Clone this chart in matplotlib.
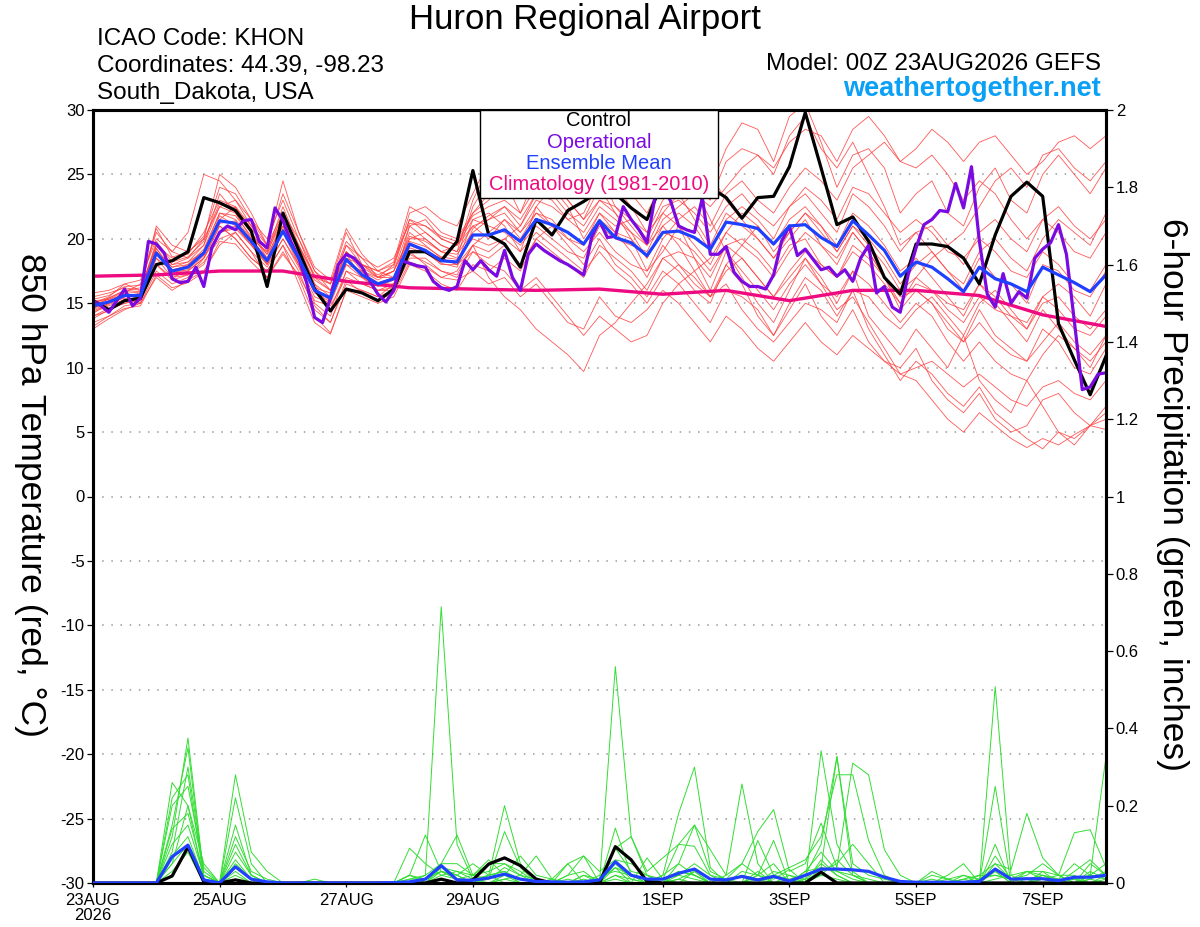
import numpy as np
import matplotlib
matplotlib.use("Agg")
import matplotlib.pyplot as plt
from matplotlib.patches import Rectangle

plt.rcParams['font.family'] = ['Liberation Sans', 'DejaVu Sans']

# ---------------- DATA ----------------
tick_hours = [0, 48, 96, 144, 216, 264, 312, 360]
tick_labels = ['23AUG\n2026', '25AUG', '27AUG', '29AUG', '1SEP', '3SEP', '5SEP', '7SEP']

# Control (6-hourly, 850 hPa temperature, C)
control_t = [15.2, 14.5, 15.2, 15.4, 18.0, 18.3, 19.0, 23.2, 22.8, 22.2, 20.6, 16.3, 22.0,
             19.1, 16.1, 14.4, 16.1, 15.8, 15.2, 16.1, 19.0, 19.0, 18.3, 19.8, 25.3, 20.3,
             19.6, 17.8, 21.5, 20.3, 22.2, 22.9, 23.7, 23.5, 22.4, 21.5, 24.5, 25.0, 24.8,
             24.0, 23.2, 21.6, 23.2, 23.3, 25.6, 29.8, 25.5, 21.1, 21.7, 19.8, 17.0, 15.7,
             19.6, 19.6, 19.4, 18.5, 16.5, 20.3, 23.3, 24.4, 23.3, 13.4, 10.6, 7.9, 10.9]

# Ensemble mean (6-hourly)
mean_t = [14.8, 15.1, 15.6, 15.6, 18.9, 17.5, 17.8, 18.9, 21.4, 21.2, 19.8, 18.3, 20.6,
          18.5, 16.0, 15.4, 18.4, 17.2, 16.5, 16.9, 19.6, 19.1, 18.3, 18.2, 20.3, 20.3,
          20.7, 19.8, 21.5, 21.1, 20.5, 19.6, 21.4, 20.1, 19.7, 18.7, 20.5, 20.6, 20.1,
          19.2, 21.3, 21.1, 20.8, 19.6, 21.0, 21.1, 20.1, 19.4, 21.4, 20.3, 19.1, 17.1,
          18.2, 17.8, 16.9, 15.9, 17.8, 16.9, 16.5, 15.9, 17.8, 17.2, 16.6, 15.9, 17.2]

# Operational (3-hourly)
oper_t = [15.2, 14.8, 14.3, 15.2, 16.1, 14.8, 15.4, 19.8, 19.6, 18.9,
          16.9, 16.6, 16.7, 17.8, 16.3, 19.3, 20.5, 21.0, 20.7, 21.4,
          21.5, 19.8, 19.3, 22.4, 21.4, 19.8, 18.5, 16.6, 13.9, 13.5,
          15.4, 18.0, 18.8, 18.5, 17.8, 16.7, 15.7, 15.1, 16.0, 18.3,
          18.1, 17.9, 17.8, 16.7, 16.2, 16.0, 16.3, 18.3, 17.6, 18.3,
          17.6, 17.1, 19.1, 17.0, 16.0, 18.8, 19.6, 19.1, 18.7, 18.3,
          18.0, 17.6, 17.2, 20.1, 21.4, 20.1, 20.2, 22.5, 21.5, 20.7,
          19.7, 23.2, 24.2, 22.9, 21.0, 20.7, 20.5, 23.2, 18.8, 18.8,
          19.4, 17.4, 16.7, 16.3, 16.3, 16.1, 17.2, 19.8, 21.0, 18.7,
          19.2, 18.4, 17.6, 17.8, 17.1, 17.6, 16.7, 18.5, 19.5, 15.8,
          16.3, 14.7, 14.3, 17.2, 19.3, 21.1, 21.5, 22.2, 22.1, 24.3,
          22.4, 25.6, 19.8, 15.7, 14.7, 17.3, 15.0, 15.9, 15.4, 18.5,
          19.2, 19.7, 21.1, 18.8, 13.6, 8.3, 8.5, 9.5, 9.6]

# Climatology 1981-2010 (daily)
clim_t = [17.1, 17.2, 17.5, 17.5, 16.7, 16.2, 16.1, 16.0, 16.1, 15.7, 16.0, 15.2, 16.0,
          16.0, 15.6, 14.1, 13.2]

# Ensemble members (6-hourly temperatures)
m01 = [14.5, 15.0, 15.8, 16.5, 20.5, 19.0, 18.5, 19.5, 23.5, 22.0, 20.0, 19.0, 21.5,
       19.5, 16.5, 14.5, 17.5, 17.0, 16.0, 16.5, 21.0, 21.5, 20.0, 19.5, 22.0, 23.0,
       24.5, 22.0, 25.0, 26.0, 23.0, 21.5, 24.0, 22.0, 20.0, 17.5, 19.0, 21.0, 18.5,
       16.0, 19.0, 17.0, 15.0, 13.5, 16.0, 18.5, 17.0, 15.0, 17.5, 14.0, 12.5, 11.0,
       13.0, 11.5, 10.0, 12.5, 9.0, 7.5, 6.5, 9.0, 7.0, 5.0, 4.0, 5.5, 7.0]
m02 = [15.5, 15.8, 16.2, 16.0, 19.5, 18.0, 18.5, 20.0, 22.5, 23.0, 21.0, 19.5, 22.0,
       20.0, 17.0, 16.0, 19.5, 18.5, 17.0, 18.0, 21.5, 20.5, 19.5, 19.0, 23.0, 25.5,
       27.0, 26.0, 29.5, 30.5, 28.0, 26.5, 28.5, 27.0, 25.0, 23.5, 26.0, 28.0, 26.5,
       24.0, 27.0, 29.0, 28.5, 26.0, 29.5, 30.5, 27.5, 24.0, 26.5, 27.0, 25.5, 22.0,
       23.5, 24.5, 22.0, 21.0, 24.0, 25.5, 23.0, 22.0, 25.0, 26.5, 25.0, 23.5, 25.5]
m03 = [14.0, 14.6, 15.0, 15.2, 18.0, 17.0, 17.2, 18.0, 20.5, 20.8, 19.5, 18.0, 20.0,
       18.0, 15.0, 14.0, 17.5, 16.5, 16.0, 16.0, 18.5, 18.5, 17.5, 17.0, 19.0, 18.5,
       19.5, 18.0, 20.0, 19.0, 18.0, 17.0, 19.5, 18.5, 17.5, 16.0, 18.5, 19.0, 18.5,
       17.0, 19.5, 20.0, 19.0, 17.5, 19.5, 20.0, 18.0, 17.0, 19.5, 18.5, 17.0, 15.0,
       16.5, 16.0, 14.5, 13.5, 15.5, 14.5, 14.0, 13.0, 15.0, 15.5, 14.0, 13.0, 14.5]
m04 = [13.5, 14.0, 14.8, 15.0, 17.5, 16.5, 17.0, 18.5, 21.0, 20.0, 18.5, 17.5, 19.5,
       17.5, 14.5, 13.5, 16.5, 16.0, 15.5, 16.0, 19.0, 18.0, 17.0, 17.5, 19.5, 17.0,
       15.5, 14.5, 13.0, 12.0, 11.0, 9.7, 12.5, 13.5, 15.0, 16.5, 18.5, 17.5, 16.0,
       15.0, 18.0, 19.5, 21.0, 19.0, 20.5, 22.0, 21.0, 19.5, 22.0, 21.0, 19.5, 17.5,
       18.5, 17.0, 15.5, 14.0, 16.5, 15.0, 13.5, 12.0, 14.5, 13.0, 11.5, 10.5, 12.0]
m05 = [15.0, 15.5, 16.5, 16.0, 21.0, 19.5, 19.0, 20.0, 25.0, 24.0, 22.0, 19.5, 24.5,
       20.5, 17.5, 16.5, 20.5, 18.0, 17.0, 17.5, 20.0, 20.0, 19.0, 19.5, 21.0, 20.0,
       21.5, 20.0, 22.0, 21.5, 20.0, 19.0, 20.5, 19.0, 18.0, 17.5, 20.0, 21.5, 22.5,
       21.0, 23.5, 24.5, 23.0, 22.0, 24.0, 25.5, 24.5, 23.0, 25.5, 26.5, 27.5, 26.0,
       27.0, 28.5, 27.5, 26.0, 27.5, 28.0, 26.5, 25.0, 26.0, 27.5, 28.0, 27.0, 28.0]
m06 = [14.2, 15.0, 15.4, 15.0, 19.0, 17.5, 18.0, 19.0, 21.5, 22.5, 20.5, 18.5, 21.0,
       18.0, 15.5, 15.0, 18.0, 17.5, 17.0, 17.0, 20.5, 19.5, 18.5, 18.0, 21.5, 22.0,
       21.0, 19.0, 22.5, 24.0, 22.5, 20.0, 22.0, 20.5, 19.0, 17.0, 19.5, 18.0, 16.5,
       15.5, 18.0, 16.5, 14.0, 12.5, 15.0, 17.0, 16.0, 14.0, 16.0, 13.0, 11.0, 9.0,
       10.5, 9.5, 8.0, 7.0, 8.5, 6.5, 5.5, 4.5, 3.7, 5.0, 4.5, 5.5, 6.0]
m07 = [15.2, 15.3, 15.9, 15.8, 19.5, 18.0, 18.2, 19.0, 22.0, 21.5, 20.0, 18.5, 21.5,
       19.0, 16.5, 15.5, 19.0, 17.5, 16.8, 17.5, 21.0, 20.0, 19.0, 18.5, 22.5, 24.5,
       26.0, 24.0, 27.5, 29.0, 27.0, 25.0, 26.5, 24.0, 22.5, 20.5, 22.0, 23.5, 21.5,
       19.5, 22.0, 21.0, 20.0, 18.5, 20.0, 21.5, 19.5, 18.0, 20.5, 19.0, 17.0, 14.5,
       16.0, 15.0, 13.0, 12.0, 14.5, 12.5, 11.5, 10.5, 13.0, 12.0, 10.0, 9.5, 11.5]
m08 = [13.0, 13.8, 14.5, 15.0, 17.0, 16.0, 16.8, 17.5, 19.5, 20.5, 19.0, 17.0, 19.0,
       17.0, 14.0, 12.7, 16.0, 15.5, 15.0, 15.5, 18.0, 17.5, 16.5, 16.0, 18.0, 17.5,
       18.5, 17.5, 20.0, 21.0, 20.5, 19.5, 22.0, 21.0, 21.5, 20.5, 23.0, 24.5, 24.0,
       23.0, 26.0, 27.0, 26.5, 25.0, 28.0, 29.5, 27.0, 25.5, 27.5, 25.0, 22.5, 19.5,
       20.5, 19.0, 17.5, 16.0, 18.5, 17.0, 16.5, 15.0, 18.0, 17.5, 16.0, 15.5, 17.5]
m09 = [14.6, 15.2, 15.5, 15.8, 19.2, 17.8, 18.0, 19.2, 22.0, 21.8, 20.2, 18.8, 21.0,
       18.8, 16.2, 15.8, 19.0, 17.8, 17.0, 17.5, 20.2, 19.8, 19.0, 18.8, 20.5, 21.5,
       22.0, 20.5, 22.0, 21.0, 19.5, 18.0, 20.0, 18.0, 17.0, 15.5, 17.5, 16.5, 15.0,
       13.5, 16.0, 15.5, 14.5, 12.5, 14.5, 16.5, 14.0, 12.5, 14.5, 12.0, 10.5, 10.0,
       11.5, 9.0, 7.5, 6.5, 8.0, 6.0, 5.0, 5.5, 7.5, 8.0, 6.5, 5.5, 5.2]
m10 = [15.8, 16.0, 16.5, 16.8, 20.0, 19.0, 20.5, 25.0, 24.5, 23.0, 21.5, 20.0, 23.0,
       20.0, 17.5, 16.0, 18.5, 18.0, 17.5, 17.0, 20.0, 20.5, 19.5, 19.0, 21.0, 21.5,
       22.5, 21.0, 23.5, 24.5, 23.0, 21.5, 23.0, 22.0, 20.5, 18.5, 21.0, 22.0, 21.0,
       19.0, 21.5, 22.5, 21.5, 20.0, 22.5, 23.5, 22.0, 20.5, 23.5, 22.5, 21.0, 19.0,
       20.5, 21.0, 19.5, 18.0, 20.5, 21.5, 20.0, 19.0, 21.5, 22.5, 21.0, 20.0, 21.5]
m11 = [14.0, 14.4, 15.2, 15.4, 18.5, 17.0, 17.5, 18.5, 21.0, 20.0, 18.5, 17.5, 19.5,
       16.5, 13.5, 12.6, 16.0, 16.0, 15.5, 16.5, 19.0, 19.0, 18.0, 18.0, 19.5, 19.0,
       20.0, 21.0, 23.0, 22.5, 21.5, 22.0, 24.5, 25.5, 23.5, 22.0, 24.5, 26.0, 24.0,
       21.5, 19.0, 17.5, 16.0, 14.5, 16.5, 18.0, 16.5, 15.5, 17.5, 16.5, 15.0, 13.5,
       15.0, 14.0, 12.0, 10.5, 12.0, 10.5, 9.5, 9.0, 11.0, 12.5, 11.5, 10.0, 12.5]
m12 = [15.0, 15.4, 16.0, 16.2, 19.5, 18.5, 18.8, 20.5, 23.0, 22.5, 21.0, 19.0, 22.5,
       19.5, 17.0, 16.5, 19.5, 18.0, 17.2, 17.8, 21.5, 21.0, 20.0, 19.5, 21.5, 21.0,
       20.5, 19.5, 21.0, 20.0, 19.0, 18.5, 21.0, 20.0, 19.5, 19.0, 21.5, 22.5, 23.5,
       22.5, 24.0, 25.5, 26.5, 25.5, 27.5, 28.5, 28.0, 26.0, 28.5, 29.5, 28.0, 26.0,
       25.5, 26.5, 25.0, 23.0, 24.5, 23.5, 21.5, 20.0, 21.5, 20.5, 19.0, 18.5, 20.5]
m13 = [14.3, 14.8, 15.3, 15.5, 18.5, 17.5, 17.5, 18.5, 20.5, 21.0, 19.5, 18.0, 20.5,
       18.0, 16.0, 15.5, 18.0, 17.0, 16.5, 16.5, 19.5, 19.0, 18.5, 18.0, 19.0, 18.0,
       17.5, 16.0, 17.0, 15.5, 14.0, 12.5, 14.0, 13.0, 12.0, 12.5, 15.0, 16.5, 17.5,
       18.5, 20.5, 22.0, 21.0, 19.5, 21.5, 22.5, 21.0, 19.0, 21.0, 20.0, 18.5, 16.5,
       18.0, 19.0, 17.5, 16.5, 19.0, 20.0, 18.5, 17.5, 20.0, 21.5, 20.5, 19.5, 22.0]
m14 = [14.9, 15.3, 15.7, 15.6, 19.0, 17.8, 18.2, 19.5, 22.5, 22.0, 20.5, 18.8, 22.0,
       19.0, 16.8, 16.0, 19.0, 18.0, 17.5, 18.0, 22.0, 22.5, 21.5, 21.0, 23.5, 26.0,
       28.0, 27.0, 30.0, 28.5, 26.0, 24.0, 25.0, 22.5, 21.0, 19.5, 21.0, 19.5, 17.5,
       15.5, 16.5, 14.5, 13.0, 12.0, 13.5, 15.0, 14.5, 13.5, 16.0, 15.5, 14.0, 13.0,
       14.5, 15.5, 14.0, 12.5, 15.0, 16.0, 14.5, 13.0, 15.5, 16.5, 15.5, 14.0, 16.5]
m15 = [14.7, 15.4, 16.0, 15.9, 19.8, 18.2, 18.6, 19.8, 22.8, 22.4, 20.8, 19.2, 21.8,
       19.5, 17.2, 16.5, 19.8, 18.5, 17.8, 18.5, 21.2, 21.0, 20.2, 19.8, 21.8, 22.5,
       23.0, 22.0, 24.0, 23.5, 22.0, 21.0, 23.0, 22.5, 21.5, 20.0, 22.5, 23.0, 22.0,
       20.5, 22.5, 23.5, 22.0, 21.0, 22.5, 24.0, 23.0, 21.5, 24.0, 23.5, 22.0, 20.5,
       21.5, 20.5, 19.0, 18.5, 20.0, 19.0, 17.5, 17.0, 19.0, 18.0, 16.5, 16.0, 18.0]
m16 = [13.8, 14.5, 15.0, 15.3, 18.0, 16.8, 17.2, 18.2, 20.0, 20.5, 19.0, 17.8, 20.0,
       17.8, 15.2, 14.8, 17.0, 16.5, 16.0, 16.2, 18.8, 18.2, 17.5, 17.2, 19.5, 20.5,
       21.5, 20.5, 22.5, 21.0, 20.0, 19.5, 21.5, 20.5, 20.0, 18.5, 20.5, 20.0, 19.0,
       17.5, 19.5, 18.5, 17.0, 15.5, 17.0, 18.5, 16.5, 14.5, 15.5, 13.5, 11.5, 9.5,
       9.0, 7.5, 6.0, 5.0, 6.5, 5.5, 4.5, 3.8, 4.5, 4.0, 4.8, 5.5, 6.5]
m17 = [15.3, 15.6, 16.3, 16.4, 20.8, 18.6, 18.9, 20.2, 24.0, 23.5, 21.5, 19.5, 23.5,
       20.5, 17.8, 16.8, 20.8, 18.8, 17.5, 18.2, 22.5, 21.8, 20.5, 20.0, 22.0, 23.5,
       24.5, 23.5, 26.0, 27.5, 26.5, 25.5, 27.5, 28.5, 27.0, 25.0, 27.5, 29.0, 27.5,
       25.0, 23.0, 21.5, 20.0, 18.5, 20.5, 22.0, 20.5, 19.0, 21.0, 19.5, 18.0, 16.0,
       17.0, 16.0, 15.0, 14.5, 16.5, 15.5, 14.0, 13.5, 15.5, 14.5, 13.0, 12.5, 14.0]
m18 = [13.2, 14.0, 14.6, 14.8, 17.2, 16.2, 16.6, 17.4, 19.8, 19.6, 18.2, 17.0, 18.8,
       17.2, 14.8, 13.5, 16.8, 15.8, 15.2, 15.8, 18.2, 17.8, 17.0, 16.8, 17.5, 16.5,
       17.0, 15.5, 16.5, 15.0, 13.5, 13.0, 15.5, 14.0, 13.5, 14.5, 16.0, 15.0, 13.5,
       12.0, 14.0, 13.0, 11.5, 10.5, 12.0, 13.5, 12.0, 11.0, 12.5, 11.5, 10.5, 9.5,
       10.0, 10.5, 9.5, 8.5, 9.5, 8.5, 7.5, 7.0, 8.5, 9.0, 8.0, 7.5, 9.0]
m19 = [14.4, 14.9, 15.5, 15.7, 18.8, 17.6, 17.9, 18.8, 21.2, 21.4, 19.8, 18.4, 20.6,
       18.6, 16.0, 15.2, 18.4, 17.4, 16.6, 17.0, 19.8, 19.4, 18.6, 18.4, 20.0, 19.5,
       20.0, 19.0, 20.5, 19.5, 18.5, 17.5, 19.0, 17.5, 16.5, 15.0, 17.0, 18.0, 17.0,
       15.5, 17.5, 18.5, 17.0, 15.5, 17.5, 19.0, 18.0, 17.0, 19.0, 18.0, 16.5, 15.0,
       17.0, 18.5, 19.5, 20.5, 22.5, 24.5, 25.5, 24.0, 26.5, 27.0, 25.5, 24.5, 26.0]
m20 = [14.6, 15.1, 15.8, 15.5, 19.3, 17.4, 17.6, 18.7, 21.8, 21.0, 19.6, 18.1, 20.8,
       18.3, 15.8, 15.1, 18.8, 17.0, 16.3, 16.8, 19.3, 18.9, 18.1, 17.8, 20.8, 21.8,
       22.5, 21.5, 23.5, 23.0, 21.5, 20.5, 22.5, 21.5, 20.5, 19.5, 22.0, 21.0, 19.5,
       18.0, 20.5, 19.5, 18.5, 17.0, 19.0, 20.5, 19.5, 18.5, 20.5, 19.0, 17.0, 15.5,
       16.0, 15.0, 13.5, 12.0, 13.5, 12.0, 11.0, 10.5, 12.0, 13.5, 12.0, 11.0, 12.5]
red_members = [m01, m02, m03, m04, m05, m06, m07, m08, m09, m10,
               m11, m12, m13, m14, m15, m16, m17, m18, m19, m20]

# 6-hour precipitation (inches), 6-hourly
control_p = [0, 0, 0, 0, 0, 0.018, 0.093, 0.003, 0, 0.008, 0, 0, 0,
             0, 0, 0, 0, 0, 0, 0, 0, 0, 0.01, 0, 0.008, 0.049,
             0.065, 0.045, 0.01, 0, 0, 0, 0, 0.094, 0.06, 0.004, 0, 0, 0,
             0, 0, 0, 0, 0, 0, 0, 0.028, 0, 0, 0, 0, 0,
             0, 0, 0, 0, 0, 0, 0, 0, 0, 0, 0, 0, 0]
mean_p = [0, 0, 0, 0, 0, 0.068, 0.098, 0.008, 0, 0.042, 0.01, 0.003, 0,
          0, 0, 0, 0, 0, 0, 0.001, 0.003, 0.01, 0.045, 0.008, 0.007, 0.013,
          0.023, 0.01, 0.004, 0.003, 0.002, 0.003, 0.008, 0.055, 0.02, 0.01, 0.01, 0.025, 0.036,
          0.01, 0.008, 0.017, 0.008, 0.017, 0.005, 0.02, 0.036, 0.036, 0.034, 0.03, 0.015, 0.004,
          0.002, 0.002, 0.002, 0.002, 0.004, 0.036, 0.01, 0.011, 0.011, 0.006, 0.015, 0.015, 0.02]

g01 = [0, 0, 0, 0, 0, 0.12, 0.375, 0.02, 0, 0.05, 0.01, 0, 0,
       0, 0, 0, 0, 0, 0, 0, 0.01, 0.02, 0.715, 0.1, 0.01, 0,
       0.02, 0, 0, 0, 0.01, 0, 0, 0.02, 0.01, 0, 0, 0.03, 0.02,
       0, 0, 0, 0.02, 0, 0, 0.01, 0.05, 0.02, 0, 0, 0, 0,
       0, 0, 0, 0, 0, 0.03, 0, 0, 0.01, 0, 0, 0.02, 0.05]
g02 = [0, 0, 0, 0, 0, 0.26, 0.2, 0.05, 0, 0.28, 0.08, 0.03, 0,
       0, 0, 0, 0, 0, 0, 0, 0.09, 0.05, 0.02, 0.03, 0.01, 0.02,
       0.2, 0.05, 0.01, 0, 0.02, 0.07, 0, 0.56, 0.12, 0.02, 0, 0.01, 0.03,
       0, 0, 0, 0, 0, 0, 0.03, 0.08, 0.03, 0.01, 0, 0, 0,
       0, 0, 0, 0, 0, 0.05, 0.01, 0, 0, 0, 0, 0, 0.01]
g03 = [0, 0, 0, 0, 0, 0.15, 0.35, 0.01, 0, 0.22, 0.05, 0, 0,
       0, 0, 0, 0, 0, 0, 0, 0.02, 0.124, 0.03, 0.01, 0, 0.01,
       0.133, 0.04, 0, 0, 0.05, 0, 0, 0.142, 0.02, 0, 0.02, 0.18, 0.3,
       0.04, 0, 0, 0.03, 0, 0.02, 0, 0.342, 0.1, 0.03, 0, 0, 0,
       0, 0, 0, 0.02, 0, 0.508, 0.02, 0, 0.03, 0, 0, 0.03, 0.01]
g04 = [0, 0, 0, 0, 0, 0.08, 0.3, 0.03, 0, 0.12, 0.03, 0.01, 0,
       0, 0.01, 0, 0, 0, 0, 0, 0, 0, 0.05, 0.124, 0.02, 0.05,
       0.05, 0.02, 0.07, 0.01, 0, 0, 0.01, 0.09, 0.12, 0.03, 0.065, 0.1, 0.15,
       0.086, 0.02, 0.256, 0.05, 0, 0.01, 0.02, 0.1, 0.327, 0.05, 0.02, 0.01, 0,
       0, 0, 0.02, 0.05, 0, 0.25, 0, 0, 0.02, 0, 0.01, 0, 0]
g05 = [0, 0, 0, 0, 0, 0.05, 0.2, 0.01, 0, 0.08, 0.02, 0, 0,
       0, 0, 0, 0, 0, 0, 0, 0, 0.02, 0.05, 0.05, 0.02, 0.06,
       0.02, 0.07, 0.02, 0.01, 0.05, 0.07, 0.03, 0.06, 0.05, 0.02, 0.01, 0.1, 0.095,
       0.02, 0.01, 0.05, 0.133, 0.19, 0.03, 0.05, 0.155, 0.04, 0.31, 0.28, 0.086, 0.02,
       0, 0.01, 0, 0.01, 0.02, 0.05, 0.035, 0.18, 0.065, 0.02, 0.13, 0.138, 0.04]
g06 = [0, 0, 0, 0, 0, 0.1, 0.15, 0.02, 0, 0.04, 0.01, 0, 0,
       0, 0, 0, 0, 0, 0, 0, 0.02, 0.01, 0.03, 0.02, 0, 0.02,
       0, 0, 0, 0.01, 0, 0.02, 0.01, 0.04, 0.02, 0, 0.02, 0.05, 0.15,
       0.03, 0.01, 0, 0.11, 0.02, 0.04, 0.06, 0.12, 0.28, 0.28, 0.11, 0.02, 0,
       0, 0, 0.01, 0, 0, 0.07, 0.01, 0.02, 0.05, 0.02, 0, 0.05, 0.02]
g07 = [0, 0, 0, 0, 0, 0.2, 0.25, 0.04, 0, 0.1, 0.02, 0, 0,
       0, 0, 0, 0, 0, 0, 0, 0, 0, 0.04, 0.03, 0.02, 0.03,
       0.05, 0.03, 0, 0, 0, 0, 0, 0.09, 0.03, 0.02, 0, 0.02, 0.05,
       0.02, 0, 0.03, 0.02, 0.11, 0, 0.02, 0.03, 0.05, 0.1, 0.05, 0, 0,
       0, 0.03, 0.01, 0, 0.02, 0.02, 0.01, 0.03, 0.01, 0, 0.03, 0.06, 0.02]
g08 = [0, 0, 0, 0, 0, 0.14, 0.18, 0.02, 0, 0.06, 0.01, 0, 0,
       0, 0, 0, 0, 0, 0, 0, 0.02, 0, 0.03, 0.02, 0, 0.02,
       0.03, 0, 0, 0, 0.02, 0.03, 0, 0.04, 0, 0.065, 0.01, 0, 0.03,
       0, 0.02, 0.05, 0.02, 0.01, 0.035, 0, 0.04, 0.327, 0.02, 0.01, 0, 0,
       0, 0, 0, 0.01, 0, 0.1, 0, 0.03, 0.02, 0.01, 0.05, 0.02, 0.327]
g09 = [0, 0, 0, 0, 0, 0.07, 0.12, 0.01, 0, 0.03, 0, 0, 0,
       0, 0, 0, 0, 0, 0, 0, 0, 0, 0.02, 0.01, 0, 0,
       0.01, 0.02, 0, 0, 0, 0.02, 0, 0.02, 0, 0, 0, 0.05, 0.02,
       0, 0, 0, 0.02, 0.05, 0, 0.03, 0.04, 0.03, 0.02, 0, 0, 0,
       0, 0, 0, 0, 0, 0.01, 0.02, 0.03, 0.03, 0.02, 0, 0.01, 0.03]
g10 = [0, 0, 0, 0, 0, 0.22, 0.28, 0.01, 0, 0.15, 0.02, 0, 0,
       0, 0, 0, 0, 0, 0, 0, 0, 0.01, 0.03, 0.01, 0.02, 0.01,
       0.04, 0.02, 0.01, 0, 0, 0, 0.02, 0.03, 0.02, 0.01, 0.01, 0.02, 0.01,
       0, 0, 0.02, 0.01, 0.02, 0.01, 0, 0.06, 0.02, 0, 0, 0, 0,
       0, 0, 0, 0, 0.01, 0.03, 0, 0, 0.01, 0.02, 0.02, 0, 0.02]
g11 = [0, 0, 0, 0, 0, 0.05, 0.1, 0, 0, 0.02, 0, 0, 0,
       0, 0, 0, 0, 0, 0, 0, 0.01, 0.01, 0.04, 0.02, 0.05, 0.02,
       0.03, 0.01, 0, 0, 0, 0.01, 0, 0.05, 0.01, 0, 0.01, 0.03, 0.02,
       0, 0, 0, 0, 0.03, 0.02, 0.01, 0.02, 0.06, 0.02, 0, 0, 0,
       0, 0.02, 0.01, 0.02, 0.01, 0.02, 0.01, 0.01, 0.02, 0.01, 0.01, 0.02, 0.01]
g12 = [0, 0, 0, 0, 0, 0.03, 0.08, 0, 0, 0.01, 0, 0, 0,
       0, 0, 0, 0, 0, 0, 0, 0, 0, 0.01, 0, 0, 0,
       0.01, 0, 0, 0, 0, 0, 0, 0.01, 0, 0, 0, 0.01, 0,
       0, 0, 0, 0.01, 0, 0, 0, 0.02, 0.01, 0, 0, 0, 0,
       0, 0, 0, 0, 0, 0, 0, 0, 0, 0, 0, 0.01, 0]
green_members = [g01, g02, g03, g04, g05, g06, g07, g08, g09, g10, g11, g12]

# ---------------- PLOT ----------------
W, H = 1200, 927
fig = plt.figure(figsize=(W / 100, H / 100), dpi=100)
ax = fig.add_axes([93 / W, (H - 883) / H, 1013 / W, 773 / H])
ax2 = ax.twinx()

hrs6 = lambda s: np.arange(len(s)) * 6
hrs3 = lambda s: np.arange(len(s)) * 3
hrs24 = lambda s: np.arange(len(s)) * 24

for m in red_members:
    ax.plot(hrs6(m), m, color='#ff3a3a', lw=0.6, alpha=0.85, zorder=1)
ax.plot(hrs24(clim_t), clim_t, color='#ee0a80', lw=2.4, zorder=3)
ax.plot(hrs6(control_t), control_t, color='black', lw=2.3, zorder=4)
ax.plot(hrs3(oper_t), oper_t, color='#7a0ae0', lw=2.3, zorder=5)
ax.plot(hrs6(mean_t), mean_t, color='#2040ff', lw=2.3, zorder=6)

for g in green_members:
    ax2.plot(hrs6(g), g, color='#33dd33', lw=0.7, zorder=1)
ax2.plot(hrs6(control_p), control_p, color='black', lw=2.3, zorder=3)
ax2.plot(hrs6(mean_p), mean_p, color='#2040ff', lw=2.3, zorder=4)

ax.set_xlim(0, 384)
ax.set_ylim(-30, 30)
ax2.set_ylim(0, 2)

ax.set_yticks(np.arange(-30, 31, 5))
ax.set_yticklabels([f'{v}' for v in range(-30, 31, 5)])
ax2.set_yticks(np.round(np.arange(0, 2.01, 0.2), 1))
ax2.set_yticklabels([f'{v:g}' for v in np.round(np.arange(0, 2.01, 0.2), 1)])
ax.set_xticks(tick_hours)
ax.set_xticklabels(tick_labels, multialignment='center', linespacing=1.0)

for a in (ax, ax2):
    for s in a.spines.values():
        s.set_linewidth(2.2)
ax.tick_params(axis='y', direction='out', length=4, width=0.9, labelsize=12, pad=2)
ax2.tick_params(axis='y', direction='out', length=5, width=0.9, labelsize=12, pad=2)
ax.tick_params(axis='x', direction='out', length=3, width=0.9, labelsize=12, pad=4)

ax.yaxis.grid(True, linestyle=(0, (1, 5)), color='#9a9a9a', lw=1.1)
ax.set_axisbelow(True)

# legend box
ax2.add_patch(Rectangle((0.382, 0.8865), 0.235, 0.1135, transform=ax2.transAxes,
                        facecolor='white', edgecolor='black', lw=1.0, zorder=10,
                        clip_on=False))
leg_items = [('Control', 'black', 0.9858), ('Operational', '#7a0ae0', 0.9586),
             ('Ensemble Mean', '#2040ff', 0.9314), ('Climatology (1981-2010)', '#ee0a80', 0.9035)]
for txt, col, yy in leg_items:
    ax2.text(0.4995, yy, txt, color=col, fontsize=14.5, ha='center', va='center',
             transform=ax2.transAxes, zorder=11)

# titles / annotations
fig.text(585 / W, 1 - 19 / H, 'Huron Regional Airport', fontsize=25, ha='center', va='center')
fig.text(97 / W, 1 - 39 / H, 'ICAO Code: KHON', fontsize=17.5, ha='left', va='center')
fig.text(97 / W, 1 - 66 / H, 'Coordinates: 44.39, -98.23', fontsize=17.5, ha='left', va='center')
fig.text(97 / W, 1 - 93 / H, 'South_Dakota, USA', fontsize=17.5, ha='left', va='center')
fig.text(1101 / W, 1 - 64 / H, 'Model: 00Z 23AUG2026 GEFS', fontsize=17.5, ha='right', va='center')
fig.text(1101 / W, 1 - 89 / H, 'weathertogether.net', fontsize=19.5, fontweight='bold',
         color='#0aa0f5', ha='right', va='center')
fig.text(30 / W, 1 - 495 / H, '850 hPa Temperature (red, \u00b0C)', fontsize=25.5,
         rotation=270, ha='center', va='center')
fig.text(1172 / W, 1 - 495 / H, '6-hour Precipitation (green, inches)', fontsize=25.5,
         rotation=270, ha='center', va='center')

fig.savefig('out.png', dpi=100)
